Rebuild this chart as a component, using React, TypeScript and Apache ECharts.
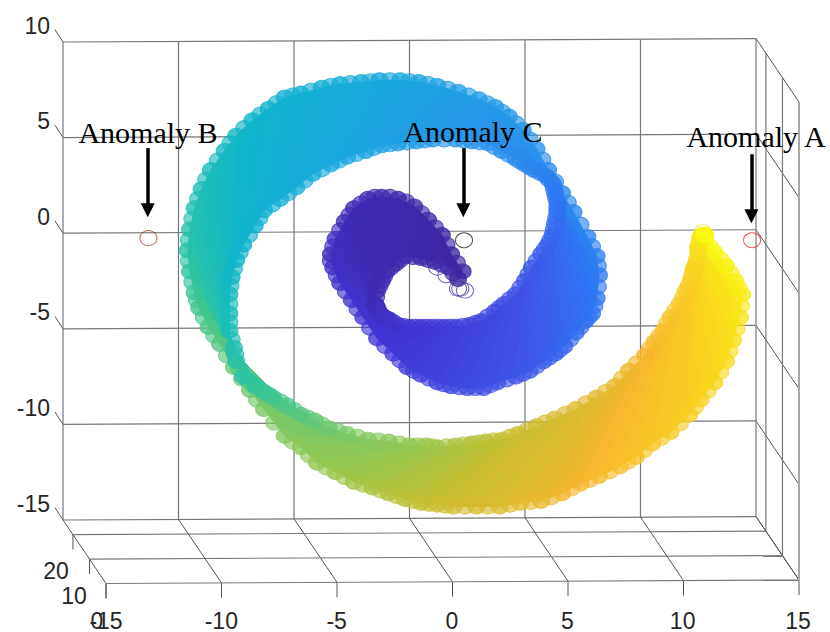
import React, { useEffect, useRef } from "react";
import * as echarts from "echarts";

const xTicks = [-15, -10, -5, 0, 5, 10, 15];
const yTicks = [-15, -10, -5, 0, 5, 10];
const zTicks = [20, 10, 0];
const zBack = 26;

// Rim of the roll, read station by station from the inner tip to the yellow tip
const outerRim = [
  [2.3,-2.0],[1.8,-1.1],[1.4,-0.1],[0.8,0.7],[0.2,1.4],[-0.5,1.8],[-1.2,1.9],[-1.8,1.8],[-2.4,1.3],[-2.8,0.6],
  [-3.2,-0.3],[-3.4,-1.1],[-3.3,-1.8],[-3.0,-2.6],[-2.5,-3.5],[-2.0,-4.4],[-1.4,-5.5],[-0.7,-6.3],[-0.1,-7.0],[0.5,-7.4],
  [1.2,-7.8],[1.8,-8.0],[2.5,-8.1],[3.2,-8.1],[3.8,-7.8],[4.6,-7.5],[5.2,-7.2],[5.8,-6.7],[6.3,-6.3],[6.7,-5.9],
  [7.2,-5.2],[7.6,-4.6],[7.9,-4.2],[8.1,-3.4],[8.2,-2.2],[8.1,-1.2],[7.7,-0.2],[7.1,1.1],[6.6,2.1],[6.0,3.3],
  [5.5,4.4],[4.9,5.4],[4.3,6.1],[3.7,6.6],[3.0,7.0],[2.1,7.4],[1.2,7.7],[0.4,7.9],[-0.4,8.0],[-1.3,8.0],
  [-2.1,7.9],[-3.0,7.8],[-3.8,7.6],[-4.7,7.3],[-5.4,7.1],[-6.1,6.5],[-6.8,5.9],[-7.5,5.1],[-8.0,4.3],[-8.6,3.3],
  [-9.0,2.3],[-9.3,1.3],[-9.5,0.2],[-9.6,-0.9],[-9.5,-2.0],[-9.3,-3.1],[-9.1,-3.9],[-8.7,-4.9],[-8.2,-5.8],[-7.6,-7.0],
  [-6.9,-8.2],[-6.3,-9.2],[-5.4,-10.6],[-4.7,-11.2],[-4.0,-12.0],[-3.2,-12.5],[-2.4,-13.0],[-1.6,-13.3],[-0.9,-13.6],[-0.2,-13.9],
  [0.5,-14.1],[1.2,-14.2],[1.9,-14.3],[2.9,-14.3],[3.9,-14.3],[4.8,-14.1],[5.7,-14.0],[6.6,-13.6],[7.4,-13.1],[8.2,-12.7],
  [9.1,-12.2],[9.8,-11.7],[10.5,-11.0],[11.3,-10.4],[12.1,-9.5],[12.6,-8.7],[13.2,-7.8],[13.7,-6.7],[14.0,-5.6],[14.3,-4.4],
  [14.4,-3.2],[14.1,-2.5],[13.7,-1.7],[13.2,-1.0],[12.8,-0.4],
];
const innerRim = [
  [2.1,-2.4],[1.7,-1.8],[1.1,-1.5],[0.5,-1.3],[-0.2,-1.2],[-0.6,-1.6],[-1.0,-2.0],[-1.2,-2.5],[-1.4,-3.0],[-1.5,-3.7],
  [-1.4,-3.9],[-1.3,-4.2],[-1.1,-4.4],[-0.9,-4.5],[-0.5,-4.8],[0.0,-4.9],[0.5,-4.9],[1.0,-4.9],[1.5,-4.9],[2.0,-4.9],
  [2.6,-4.8],[3.1,-4.6],[3.7,-4.1],[4.1,-3.7],[4.6,-3.2],[5.0,-2.5],[5.3,-1.8],[5.7,-1.1],[6.0,-0.6],[6.2,-0.1],
  [6.3,0.5],[6.4,1.1],[6.4,1.6],[6.3,2.1],[6.2,2.6],[5.9,3.0],[5.4,3.3],[5.0,3.6],[4.6,3.9],[4.0,4.3],
  [3.4,4.7],[2.7,4.8],[2.0,4.9],[1.0,4.9],[0.3,4.8],[-0.5,4.7],[-1.2,4.6],[-1.9,4.3],[-2.7,4.0],[-3.4,3.6],
  [-4.2,3.1],[-4.9,2.4],[-5.6,1.8],[-6.3,1.2],[-6.7,0.4],[-7.2,-0.6],[-7.5,-1.4],[-7.7,-2.3],[-7.8,-3.2],[-7.8,-4.2],
  [-7.8,-5.1],[-7.6,-6.0],[-7.5,-6.7],[-7.2,-7.5],[-6.7,-8.0],[-6.3,-8.3],[-5.9,-8.6],[-5.3,-9.0],[-4.7,-9.5],[-4.1,-9.8],
  [-3.5,-10.2],[-2.7,-10.5],[-1.8,-10.8],[-0.9,-10.9],[0.0,-11.1],[0.7,-11.1],[1.2,-11.2],[2.0,-11.1],[2.7,-11.0],[3.3,-10.9],
  [4.0,-10.8],[4.7,-10.5],[5.5,-10.1],[6.3,-9.7],[7.2,-9.2],[8.1,-8.6],[8.9,-8.0],[9.5,-7.2],[10.2,-6.4],[10.6,-5.7],
  [11.0,-5.1],[11.3,-4.4],[11.7,-3.7],[11.97,-3.0],[12.2,-2.4],[12.3,-1.9],[12.4,-1.6],[12.5,-1.1],[12.5,-0.7],[12.6,-0.4],
  [12.6,-0.2],[12.7,-0.1],[12.7,-0.1],[12.8,-0.1],[12.8,-0.1],
];
// Further circles along the same rims, lying between the stations
const outerFringe = [
  [2.05,-1.55],[1.6,-0.6],[1.1,0.3],[0.5,1.05],[-0.15,1.65],[-0.85,1.9],[-1.5,1.9],[-2.1,1.55],[-2.6,0.95],[-3.0,0.15],
  [-3.3,-0.7],[-3.4,-1.45],[-3.15,-2.2],[-2.75,-3.05],[-2.25,-3.95],[-1.7,-4.95],[-1.05,-5.9],[-0.4,-6.65],[0.2,-7.2],[0.85,-7.6],
  [1.5,-7.9],[2.15,-8.05],[2.85,-8.1],[3.5,-7.95],[4.2,-7.65],[4.9,-7.35],[5.5,-6.95],[6.05,-6.5],[6.5,-6.1],[6.95,-5.55],
  [7.4,-4.9],[7.75,-4.4],[8.0,-3.8],[8.15,-2.8],[8.15,-1.7],[7.9,-0.7],[7.4,0.45],[6.85,1.6],[6.3,2.7],[5.75,3.85],
  [5.2,4.9],[4.6,5.75],[4.0,6.35],[3.35,6.8],[2.55,7.2],[1.65,7.55],[0.8,7.8],[0,7.95],[-0.85,8.0],[-1.7,7.95],
  [-2.55,7.85],[-3.4,7.7],[-4.25,7.45],[-5.05,7.2],[-5.75,6.8],[-6.45,6.2],[-7.15,5.5],[-7.75,4.7],[-8.3,3.8],[-8.8,2.8],
  [-9.15,1.8],[-9.4,0.75],[-9.55,-0.35],[-9.55,-1.45],[-9.4,-2.55],[-9.2,-3.5],[-8.9,-4.4],[-8.45,-5.35],[-7.9,-6.4],[-7.25,-7.6],
  [-6.6,-8.7],[-5.85,-9.9],[-5.05,-10.9],[-4.35,-11.6],[-3.6,-12.25],[-2.8,-12.75],[-2.0,-13.15],[-1.25,-13.45],[-0.55,-13.75],[0.15,-14.0],
  [0.85,-14.15],[1.55,-14.25],[2.4,-14.3],[3.4,-14.3],[4.35,-14.2],[5.25,-14.05],[6.15,-13.8],[7.0,-13.35],[7.8,-12.9],[8.65,-12.45],
  [9.45,-11.95],[10.15,-11.35],[10.9,-10.7],[11.7,-9.95],[12.35,-9.1],[12.9,-8.25],[13.45,-7.25],[13.85,-6.15],[14.15,-5.0],[14.35,-3.8],
  [14.25,-2.85],[13.9,-2.1],[13.45,-1.35],[13.0,-0.7],
];
const innerFringe = [
  [1.9,-2.1],[1.4,-1.65],[0.8,-1.4],[0.15,-1.25],[-0.4,-1.4],[-0.8,-1.8],[-1.1,-2.25],[-1.3,-2.75],[-1.45,-3.35],[-1.45,-3.8],
  [-1.35,-4.05],[-1.2,-4.3],[-1.0,-4.45],[-0.7,-4.65],[-0.25,-4.85],[0.25,-4.9],[0.75,-4.9],[1.25,-4.9],[1.75,-4.9],[2.3,-4.85],
  [2.85,-4.7],[3.4,-4.35],[3.9,-3.9],[4.35,-3.45],[4.8,-2.85],[5.15,-2.15],[5.5,-1.45],[5.85,-0.85],[6.1,-0.35],[6.25,0.2],
  [6.35,0.8],[6.4,1.35],[6.35,1.85],[6.25,2.35],[6.05,2.8],[5.65,3.15],[5.2,3.45],[4.8,3.75],[4.3,4.1],[3.7,4.5],
  [3.05,4.75],[2.35,4.85],[1.5,4.9],[0.65,4.85],[-0.1,4.75],[-0.85,4.65],[-1.55,4.45],[-2.3,4.15],[-3.05,3.8],[-3.8,3.35],
  [-4.55,2.75],[-5.25,2.1],[-5.95,1.5],[-6.5,0.8],[-6.95,-0.1],[-7.35,-1.0],[-7.6,-1.85],[-7.75,-2.75],[-7.8,-3.7],[-7.8,-4.65],
  [-7.7,-5.55],[-7.55,-6.35],[-7.35,-7.1],[-6.95,-7.75],[-6.5,-8.15],[-6.1,-8.45],[-5.6,-8.8],[-5.0,-9.25],[-4.4,-9.65],[-3.8,-10.0],
  [-3.1,-10.35],[-2.25,-10.65],[-1.35,-10.85],[-0.45,-11.0],[0.35,-11.1],[0.95,-11.15],[1.6,-11.15],[2.35,-11.05],[3.0,-10.95],[3.65,-10.85],
  [4.35,-10.65],[5.1,-10.3],[5.9,-9.9],[6.75,-9.45],[7.65,-8.9],[8.5,-8.3],[9.2,-7.6],[9.85,-6.8],[10.4,-6.05],[10.8,-5.4],
  [11.15,-4.75],[11.5,-4.05],[11.85,-3.35],[12.1,-2.7],[12.25,-2.15],[12.35,-1.75],[12.45,-1.35],[12.5,-0.9],[12.55,-0.55],[12.6,-0.3],
  [12.65,-0.15],[12.7,-0.1],[12.75,-0.1],[12.8,-0.1],
];
const tipCircles = [[2.2,-2.9],[2.4,-3.0],[2.1,-2.9],[1.2,-1.8],[1.6,-2.2]];
const yellowLoose = [[12.7,0.05]];
const tonePalette = ["#3e26a0","#3f2bb4","#4235d6","#3f50e6","#2f74f4","#2a92ec","#1aa7de","#0fb5cc","#2cc5a0","#84c95f","#c2bf2f","#f8b72e","#fad61f","#f8fa0f"];

const anomalyNames = ["Anomaly A", "Anomaly B", "Anomaly C"];
const anomalyPoints = [[14.83,-0.37],[-11.3,-0.26],[2.36,-0.37]];
const anomalyColors = ["#ee2a2a","#b8452f","#222222"];
const arrowTops = [4.13,4.45,4.45];
const arrowEnds = [0.89,1.2,1.2];
const anomalyLabelAt = [[756,136],[148,132],[473,131]];
const zLabelAt = [[56,571],[74,596],[97,621]];

const toneOf = (i: number) => echarts.color.lerp(i / (outerRim.length - 1), tonePalette) as string;

const project = (x: number, y: number, z: number) => [
  x + (zBack - z) * 0.0716,
  y - (zBack - z) * 0.1277 + ((x + 15) / 30) * 0.18,
];

type Seg = [number, number, number, number, number];
const seg = (a: number[], b: number[], kind: number): Seg => [a[0], a[1], b[0], b[1], kind];
const frame: Seg[] = [];
yTicks.forEach((y) => {
  frame.push(seg(project(-15, y, zBack), project(15, y, zBack), 0));
  frame.push(seg(project(15, y, zBack), project(15, y, 0), 1));
  const p = project(-15, y, zBack);
  frame.push(seg(p, [p[0] - 0.35, p[1] + 0.65], 1));
});
xTicks.forEach((x) => {
  frame.push(seg(project(x, -15, zBack), project(x, 10, zBack), 0));
  frame.push(seg(project(x, -15, zBack), project(x, -15, 0), 1));
  const p = project(x, -15, 0);
  frame.push(seg(p, [p[0], p[1] - 0.78], x === 15 ? 2 : 1));
});
zTicks.forEach((z) => {
  frame.push(seg(project(-15, -15, z), project(15, -15, z), 0));
  frame.push(seg(project(15, -15, z), project(15, 10, z), z === 0 ? 2 : 0));
  const p = project(-15, -15, z);
  frame.push(seg(p, [p[0], p[1] - 0.78], 1));
});
const frameStyles = [
  { stroke: "#777777", lineWidth: 1.2 },
  { stroke: "#555555", lineWidth: 1 },
  { stroke: "#a8a8a8", lineWidth: 2 },
];

const hollow = (p: number[], c: string) => ({
  value: p,
  itemStyle: { color: "rgba(0,0,0,0)", borderColor: c, borderWidth: 1 },
});
const filled = (p: number[], c: string, alpha: number) => ({
  value: p,
  itemStyle: { color: echarts.color.modifyAlpha(c, alpha), borderColor: c, borderWidth: 1 },
});

const tickFont = { fontFamily: "Liberation Sans", fontSize: 23, color: "#262626" };

const rimSeries = (name: string, data: any[]) => ({
  type: "scatter",
  name,
  z: 3,
  clip: false,
  silent: true,
  symbol: "circle",
  symbolSize: [17, 15],
  data,
});

export default function App() {
  const ref = useRef<HTMLDivElement>(null);
  useEffect(() => {
    const chart = echarts.init(ref.current!, undefined, { renderer: "svg" });
    chart.setOption({
      animation: false,
      backgroundColor: "#ffffff",
      grid: [
        { left: 63, top: 42, width: 693, height: 478 },
        { left: 106, top: 500, width: 692, height: 84 },
      ],
      xAxis: [
        { type: "value", gridIndex: 0, min: -15, max: 15, interval: 5, axisLine: { show: false }, axisTick: { show: false }, splitLine: { show: false }, axisLabel: { show: false } },
        { type: "value", gridIndex: 1, min: -15, max: 15, interval: 5, axisLine: { show: false }, axisTick: { show: false }, splitLine: { show: false }, axisLabel: { ...tickFont, margin: 25, showMinLabel: true, showMaxLabel: true } },
      ],
      yAxis: [
        { type: "value", gridIndex: 0, min: -15, max: 10, interval: 5, axisLine: { show: false }, axisTick: { show: false }, splitLine: { show: false }, axisLabel: { ...tickFont, margin: 13, verticalAlign: "bottom", padding: [0, 0, 5, 0], showMinLabel: true, showMaxLabel: true } },
        { type: "value", gridIndex: 1, show: false, min: 0, max: 1 },
      ],
      series: [
        {
          type: "custom",
          name: "frame",
          xAxisIndex: 0,
          yAxisIndex: 0,
          silent: true,
          z: 1,
          clip: false,
          data: frame,
          renderItem: (_p: any, api: any) => {
            const a = api.coord([api.value(0), api.value(1)]);
            const b = api.coord([api.value(2), api.value(3)]);
            return {
              type: "line",
              shape: { x1: a[0], y1: a[1], x2: b[0], y2: b[1] },
              style: { ...frameStyles[api.value(4)], fill: null },
            };
          },
        },
        rimSeries("outerFringe", outerFringe.map((p, i) => filled(p, toneOf(i + 0.5), 0.8))),
        rimSeries("innerFringe", innerFringe.map((p, i) => filled(p, toneOf(i + 0.5), 0.8))),
        rimSeries("outer", outerRim.map((p, i) => filled(p, toneOf(i), 1))),
        rimSeries("inner", innerRim.map((p, i) => filled(p, toneOf(i), 1))),
        {
          type: "custom",
          name: "roll",
          xAxisIndex: 0,
          yAxisIndex: 0,
          silent: true,
          z: 3,
          clip: false,
          data: outerRim.slice(0, -1).map((_, i) => [i]),
          encode: { x: -1, y: -1 },
          renderItem: (p: any, api: any) => {
            const i = p.dataIndex;
            const pts = [outerRim[i], outerRim[i + 1], innerRim[i + 1], innerRim[i]].map((q) => api.coord(q));
            const c = toneOf(i);
            return { type: "polygon", shape: { points: pts }, style: { fill: c, stroke: c, lineWidth: 1 } };
          },
        },
        rimSeries("loose", [...tipCircles.map((p) => hollow(p, "#4a38ac")), ...yellowLoose.map((p) => hollow(p, "#f2e62a"))]),
        {
          type: "scatter",
          name: "anomalies",
          z: 4,
          clip: false,
          silent: true,
          symbol: "circle",
          symbolSize: [17, 15],
          data: anomalyPoints.map((p, i) => hollow(p, anomalyColors[i])),
          markLine: {
            silent: true,
            animation: false,
            symbol: ["none", "triangle"],
            symbolSize: 14,
            label: { show: false },
            lineStyle: { color: "#000000", width: 3.5, type: "solid" },
            data: anomalyPoints.map((p, i) => [
              { coord: [p[0] - 0.03, arrowTops[i]], lineStyle: { color: "#000000", width: 3.5, type: "solid" }, itemStyle: { color: "#000000" } },
              { coord: [p[0] - 0.03, arrowEnds[i]], itemStyle: { color: "#000000" } },
            ]),
          },
        },
      ],
      graphic: [
        ...anomalyNames.map((t, i) => ({
          type: "text",
          z: 100,
          x: anomalyLabelAt[i][0],
          y: anomalyLabelAt[i][1],
          style: { text: t, fontFamily: "Liberation Serif", fontSize: 30, fill: "#000000", textAlign: "center", textVerticalAlign: "middle" },
        })),
        ...zTicks.map((t, i) => ({
          type: "text",
          z: 100,
          x: zLabelAt[i][0],
          y: zLabelAt[i][1],
          style: { text: String(t), fontFamily: "Liberation Sans", fontSize: 23, fill: "#262626", textAlign: "center", textVerticalAlign: "middle" },
        })),
      ],
    });
    return () => chart.dispose();
  }, []);
  return <div ref={ref} style={{ position: "absolute", left: 0, top: 0, width: 830, height: 632 }} />;
}
